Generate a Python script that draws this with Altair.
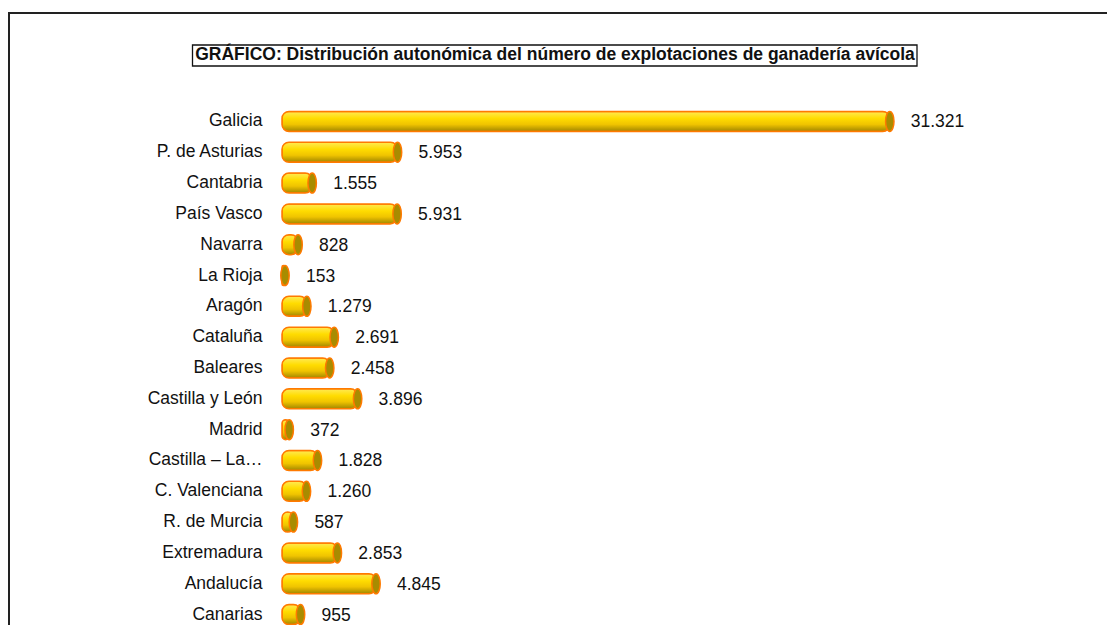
import altair as alt
import pandas as pd

regions = ["Galicia", "P. de Asturias", "Cantabria", "País Vasco", "Navarra", "La Rioja",
           "Aragón", "Cataluña", "Baleares", "Castilla y León", "Madrid",
           "Castilla – La Mancha", "C. Valenciana", "R. de Murcia", "Extremadura",
           "Andalucía", "Canarias"]
values = [31321, 5953, 1555, 5931, 828, 153, 1279, 2691, 2458, 3896, 372,
          1828, 1260, 587, 2853, 4845, 955]
labels = ["31.321", "5.953", "1.555", "5.931", "828", "153", "1.279", "2.691", "2.458",
          "3.896", "372", "1.828", "1.260", "587", "2.853", "4.845", "955"]
title_text = "GRÁFICO: Distribución autonómica del número de explotaciones de ganadería avícola"

df = pd.DataFrame({"region": regions, "value": values, "label": labels})

FONT = "Liberation Sans"
W, H = 815, 519
PAD_L, PAD_T = 274, 98
Y_RANGE = 524

x_enc = alt.X("value:Q", scale=alt.Scale(domain=[0, 42000], nice=False, zero=True), axis=None)
y_enc = alt.Y("region:N", sort=None,
              scale=alt.Scale(paddingInner=0, paddingOuter=0, range=[0, Y_RANGE]),
              axis=alt.Axis(title=None, ticks=False, domain=False, labelPadding=20,
                            labelFont=FONT, labelFontSize=17.5, labelColor="#111111",
                            labelLimit=116))

body_grad = alt.LinearGradient(
    gradient="linear", x1=0, y1=0, x2=0, y2=1,
    stops=[alt.GradientStop(color="#FFEA55", offset=0),
           alt.GradientStop(color="#FFDC00", offset=0.35),
           alt.GradientStop(color="#F0C400", offset=0.65),
           alt.GradientStop(color="#A08600", offset=1)])

bars = alt.Chart(df).mark_bar(height=20, cornerRadius=7, fill=body_grad,
                              stroke="#FF7A00", strokeWidth=1.5).encode(
    x=x_enc, y=y_enc)

cap_path = "M0,-1 A0.42,1 0 1,1 0,1 A0.42,1 0 1,1 0,-1 Z"
caps = alt.Chart(df).mark_point(shape=cap_path, size=400, filled=True, fill="#A88C00",
                                stroke="#FF7A00", strokeWidth=1.5, opacity=1).encode(
    x="value:Q", y=alt.Y("region:N", sort=None))

texts = alt.Chart(df).mark_text(align="left", baseline="middle", dx=21, dy=1,
                                font=FONT, fontSize=17.5, color="#111111").encode(
    x="value:Q", y=alt.Y("region:N", sort=None), text="label:N")

one = alt.Data(values=[{"t": title_text}])

title_box = alt.Chart(one).mark_rect(fill="white", stroke="#111111", strokeWidth=1.3).encode(
    x=alt.value(-89.5), x2=alt.value(635), y=alt.value(-61), y2=alt.value(-40))
title_mark = alt.Chart(one).mark_text(align="center", baseline="alphabetic", font=FONT,
                                      fontSize=17.5, fontWeight="bold", color="#111111").encode(
    x=alt.value(273), y=alt.value(-46.5), text="t:N")

frame_left = alt.Chart(one).mark_rule(color="#222222", strokeWidth=2).encode(
    x=alt.value(-273), y=alt.value(-93), y2=alt.value(H + 50))
frame_top = alt.Chart(one).mark_rule(color="#222222", strokeWidth=2).encode(
    x=alt.value(-274), x2=alt.value(W + 60), y=alt.value(-93))

chart = alt.layer(frame_left, frame_top, title_box, title_mark, bars, caps, texts).properties(
    width=W, height=H,
    autosize=alt.AutoSizeParams(type="none"),
    padding={"left": PAD_L, "top": PAD_T, "right": 10, "bottom": 0},
).configure(background="white", view=alt.ViewConfig(stroke="transparent"))

chart.save("out.html", embed_options={"renderer": "svg", "actions": False})
